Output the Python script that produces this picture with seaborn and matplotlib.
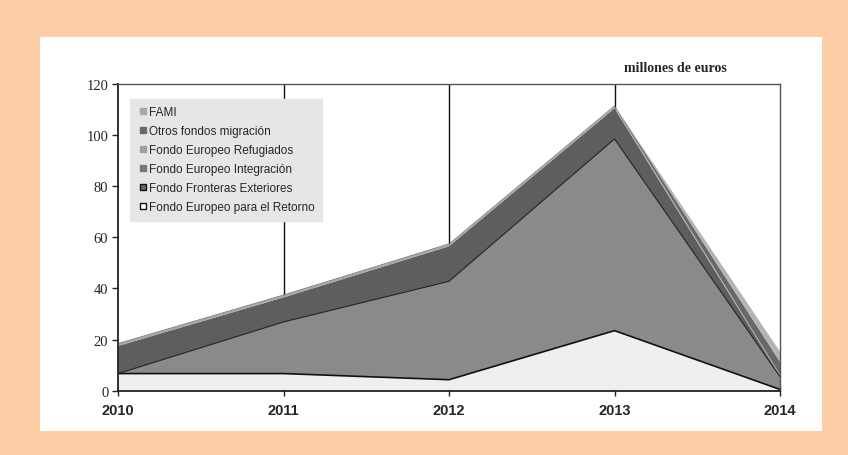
import numpy as np
import pandas as pd
import matplotlib
matplotlib.use("Agg")
import matplotlib.pyplot as plt
from matplotlib.lines import Line2D
from matplotlib.patches import Rectangle
import seaborn as sns

years = [2010, 2011, 2012, 2013, 2014]
retorno = [6.7, 6.7, 4.3, 23.5, 0.5]
fronteras = [0.0, 20.2, 38.5, 75.0, 5.0]
integracion = [10.8, 9.6, 13.7, 12.0, 0.3]
refugiados = [0.8, 0.8, 0.8, 0.8, 0.5]
otros = [0.3, 0.3, 0.3, 0.3, 5.0]
fami = [0.0, 0.0, 0.0, 0.0, 4.0]

series = [
    ("Fondo Europeo para el Retorno", retorno, "#efefef"),
    ("Fondo Fronteras Exteriores", fronteras, "#8a8a8a"),
    ("Fondo Europeo Integración", integracion, "#5e5e5e"),
    ("Fondo Europeo Refugiados", refugiados, "#a6a6a6"),
    ("Otros fondos migración", otros, "#686868"),
    ("FAMI", fami, "#b4b4b4"),
]
legend_markers = {
    "FAMI": ("#a8a8a8", "#a8a8a8"),
    "Otros fondos migración": ("#6a6a6a", "#6a6a6a"),
    "Fondo Europeo Refugiados": ("#a0a0a0", "#a0a0a0"),
    "Fondo Europeo Integración": ("#777777", "#777777"),
    "Fondo Fronteras Exteriores": ("#6a6a6a", "#111111"),
    "Fondo Europeo para el Retorno": ("#ffffff", "#111111"),
}

sns.set_style("white")
fig = plt.figure(figsize=(8.48, 4.56), dpi=100, facecolor="#fdcfa6")
fig.patches.append(Rectangle((40 / 848, 1 - 432 / 456), (822 - 40) / 848, (432 - 38) / 456,
                             transform=fig.transFigure, facecolor="white", edgecolor="none", zorder=-10))
ax = fig.add_axes([118 / 848, 1 - 391.7 / 456, (780 - 118) / 848, (391.7 - 85) / 456])
ax.set_zorder(2)
ax.set_facecolor("white")

# vertical guide lines behind the areas
for yr in [2011, 2012, 2013]:
    ax.axvline(yr, color="#111111", lw=1.0, zorder=1)

base = np.zeros(len(years))
tops = []
for name, vals, col in series:
    top = base + np.array(vals)
    ax.fill_between(years, base, top, facecolor=col, edgecolor="none", lw=0, zorder=2)
    tops.append(top)
    base = top

# boundary lines between the lower layers
df_lines = pd.DataFrame({"year": years, "retorno": tops[0], "fronteras": tops[1]})
sns.lineplot(data=df_lines, x="year", y="retorno", color="#111111", lw=1.2, ax=ax, zorder=3)
sns.lineplot(data=df_lines, x="year", y="fronteras", color="#222222", lw=0.8, ax=ax, zorder=3)

ax.set_xlim(2010, 2014)
ax.set_ylim(0, 120)
ax.set_xticks(years)
ax.set_xticklabels([str(y) for y in years], fontfamily="Liberation Sans", fontweight="bold", fontsize=10.5)
ax.set_yticks(np.arange(0, 121, 20))
ax.set_yticklabels([str(v) for v in range(0, 121, 20)], fontfamily="Liberation Serif", fontsize=10.5)
ax.tick_params(axis="y", direction="out", length=4, width=1, color="#222222", pad=3, left=True)
ax.tick_params(axis="x", direction="inout", length=7, width=1, color="#222222", pad=5, bottom=True)
ax.set_xlabel("")
ax.set_ylabel("")
for side in ["left", "bottom"]:
    ax.spines[side].set_color("#222222")
    ax.spines[side].set_linewidth(1.3)
for side in ["top", "right"]:
    ax.spines[side].set_color("#555555")
    ax.spines[side].set_linewidth(1.0)
for s in ax.spines.values():
    s.set_zorder(5)

handles = []
for name, _, _ in series[::-1]:
    fc, ec = legend_markers[name]
    handles.append(Line2D([], [], marker="s", linestyle="none", markersize=5,
                          markerfacecolor=fc, markeredgecolor=ec, markeredgewidth=1.0, label=name))
leg = ax.legend(handles=handles, loc="upper left", bbox_to_anchor=(12 / 662, 1 - 15 / 306.7),
                frameon=True, fancybox=False, facecolor="#e6e6e6", edgecolor="#e6e6e6", framealpha=1,
                prop={"family": "Liberation Sans", "size": 8.5}, handletextpad=0.05, labelspacing=0.6,
                borderpad=0.6, handlelength=1.0, borderaxespad=0)
leg.set_zorder(6)

fig.text(675 / 848, 1 - 68 / 456, "millones de euros", ha="center", va="center",
         fontfamily="Liberation Serif", fontweight="bold", fontsize=10)

fig.savefig("out.png", dpi=100, facecolor=fig.get_facecolor())
